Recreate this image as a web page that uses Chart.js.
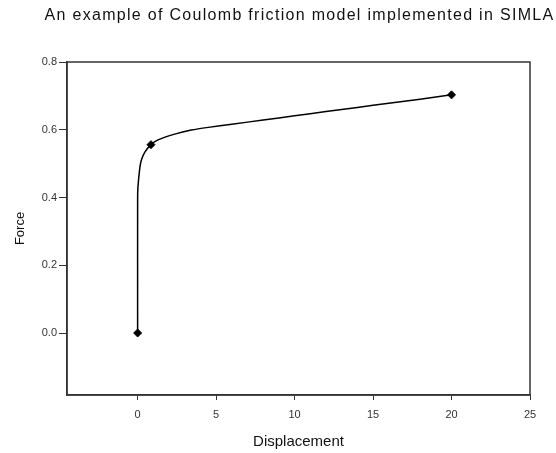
<!DOCTYPE html>
<html><head><meta charset="utf-8">
<script src="https://cdn.jsdelivr.net/npm/chart.js@4"></script>
<style>html,body{margin:0;padding:0;background:#fff}</style>
</head><body>
<canvas id="c" width="556" height="453"></canvas>
<script>
const curveX = [0, 0, 0.02, 0.13, 0.23, 0.45, 0.85, 1.3, 2.36, 3.42, 4.5, 6, 8, 10, 12, 14, 16, 18, 20];
const curveY = [0, 0.40, 0.43, 0.484, 0.509, 0.533, 0.556, 0.570, 0.587, 0.599, 0.607, 0.616, 0.629, 0.641, 0.654, 0.666, 0.678, 0.690, 0.703];
const markerX = [0, 0.85, 20];
const markerY = [0, 0.556, 0.703];
const xTicks = [0, 5, 10, 15, 20, 25];
const yTicks = [0, 0.2, 0.4, 0.6, 0.8];
const titleText = 'An example of Coulomb friction model implemented in SIMLA';
const xTitle = 'Displacement';
const yTitle = 'Force';

const FONT = "'Liberation Sans', Arial, sans-serif";
const AX = '#333';

const boxPlugin = {
  id: 'box',
  afterDraw(chart) {
    const {ctx, chartArea: a} = chart;
    ctx.save();
    ctx.strokeStyle = AX;
    ctx.lineWidth = 1.5;
    ctx.strokeRect(a.left, a.top, a.right - a.left, a.bottom - a.top);
    // chart title, centred over the plot area, slightly letter-spaced like the original
    ctx.fillStyle = '#111';
    ctx.font = "16px " + FONT;
    if ('letterSpacing' in ctx) ctx.letterSpacing = '1.3px';
    ctx.textAlign = 'center';
    ctx.textBaseline = 'alphabetic';
    ctx.fillText(titleText, (a.left + a.right) / 2 + 1, 20);
    ctx.restore();
  }
};

new Chart(document.getElementById('c'), {
  type: 'scatter',
  data: {
    datasets: [
      {
        data: curveX.map((x, i) => ({x, y: curveY[i]})),
        showLine: true,
        borderColor: '#000',
        borderWidth: 1.5,
        pointRadius: 0,
        tension: 0.2,
        fill: false
      },
      {
        data: markerX.map((x, i) => ({x, y: markerY[i]})),
        showLine: false,
        pointStyle: 'rectRot',
        pointRadius: 4,
        backgroundColor: '#000',
        borderColor: '#000',
        borderWidth: 1
      }
    ]
  },
  options: {
    responsive: false,
    animation: false,
    layout: {padding: {left: 0, right: 26, top: 62, bottom: 0}},
    plugins: {
      legend: {display: false},
      tooltip: {enabled: false},
      title: {display: false}
    },
    scales: {
      x: {
        type: 'linear',
        min: -4.5,
        max: 25,
        afterBuildTicks(s) { s.ticks = xTicks.map(v => ({value: v})); },
        afterFit(s) { s.height = 58; },
        grid: {drawOnChartArea: false, drawTicks: true, tickLength: 5, color: AX, lineWidth: 1},
        border: {display: true, color: AX, width: 1.5},
        ticks: {color: '#333', font: {family: FONT, size: 11}, padding: 8, maxRotation: 0},
        title: {display: true, text: xTitle, color: '#111', font: {family: FONT, size: 15}, padding: {top: 0, bottom: 2}}
      },
      y: {
        type: 'linear',
        min: -0.183,
        max: 0.8,
        afterBuildTicks(s) { s.ticks = yTicks.map(v => ({value: v})); },
        afterFit(s) { s.width = 67; },
        grid: {drawOnChartArea: false, drawTicks: true, tickLength: 8, color: AX, lineWidth: 1},
        border: {display: true, color: AX, width: 1.5},
        ticks: {color: '#333', font: {family: FONT, size: 11}, padding: 2, callback: v => v.toFixed(1)},
        title: {display: true, text: yTitle, color: '#111', font: {family: FONT, size: 13}, padding: {top: 13, bottom: 0}}
      }
    }
  },
  plugins: [boxPlugin]
});
</script>
</body></html>
